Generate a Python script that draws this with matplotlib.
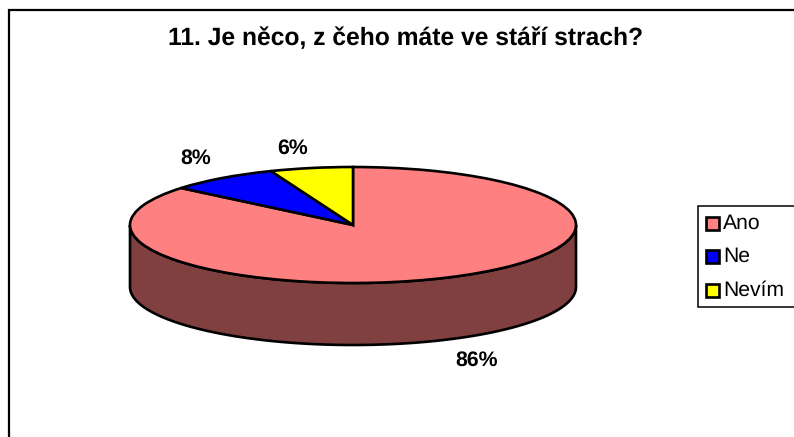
import numpy as np
import matplotlib
matplotlib.use('Agg')
import matplotlib.pyplot as plt
from matplotlib.patches import Rectangle

plt.rcParams['font.family'] = ['Liberation Sans', 'DejaVu Sans']
plt.rcParams['text.hinting'] = 'no_hinting'
plt.rcParams['text.hinting_factor'] = 8

title = '11. Je něco, z čeho máte ve stáří strach?'
categories = ['Ano', 'Ne', 'Nevím']
values = [86, 8, 6]
colors = ['#FF8080', '#0000FF', '#FFFF00']
side_color = '#804040'
labels = ['86%', '8%', '6%']

W, H = 794, 437
fig = plt.figure(figsize=(W / 100, H / 100), dpi=100, facecolor='white')

bg = fig.add_axes([0, 0, 1, 1])
bg.set_xlim(0, W)
bg.set_ylim(H, 0)
bg.axis('off')
bg.plot([8.5, 8.5, W], [H, 9.5, 9.5], color='black', lw=1.6, solid_joinstyle='miter')

# Pie: unit circle stretched to the tilted ellipse
cx, cy, rx, ry, depth = 353, 225, 223, 58, 62
ax = fig.add_axes([(cx - rx) / W, 1 - (cy + ry) / H, 2 * rx / W, 2 * ry / H])
d = depth / ry
t = np.linspace(np.pi, 2 * np.pi, 200)
ax.fill(np.r_[np.cos(t), np.cos(t[::-1])], np.r_[np.sin(t), np.sin(t[::-1]) - d],
        facecolor=side_color, edgecolor='black', lw=1.9, clip_on=False, zorder=1)
wedges, _ = ax.pie(values, colors=colors, startangle=90, counterclock=False, radius=1,
                   wedgeprops=dict(edgecolor='black', linewidth=1.9, zorder=2, clip_on=False))
ax.set_aspect('auto')
ax.set_xlim(-1, 1)
ax.set_ylim(-1, 1)
ax.patch.set_visible(False)

bg.text(406, 38.5, title, ha='center', va='center', fontsize=17.75, fontweight='bold', color='black')
label_pos = [(477, 360), (196, 158), (293, 148)]
for s, (x, y) in zip(labels, label_pos):
    bg.text(x, y, s, ha='center', va='center', fontsize=15.3, fontweight='bold', color='black')

# Legend (its right side runs past the picture edge)
bg.add_patch(Rectangle((697.5, 205.5), 110, 101, facecolor='white', edgecolor='black', lw=1.1, zorder=3))
for c, name, y in zip(colors, categories, [223, 256, 290]):
    bg.add_patch(Rectangle((705.5, y - 6.5), 13, 13, facecolor=c, edgecolor='black', lw=1.9, zorder=4))
    bg.text(723, y, name, ha='left', va='center', fontsize=15.2, color='black', zorder=4)

fig.savefig('out.png', dpi=100, facecolor='white')
